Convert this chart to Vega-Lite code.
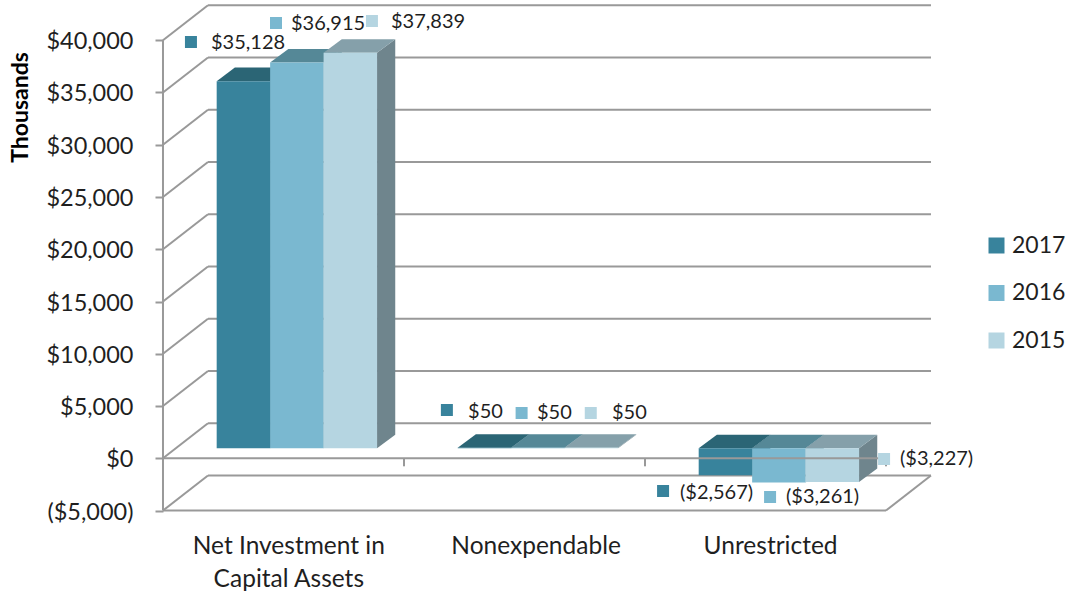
{"$schema":"https://vega.github.io/schema/vega-lite/v6.json","width":1066,"height":592,"padding":0,"autosize":{"type":"none"},"background":"white","config":{"view":{"stroke":null},"font":"Lato","text":{"font":"Lato"}},
"resolve":{"axis":{"x":"independent","y":"independent"},"legend":{"color":"independent"}},
"datasets":{
"bars":[
{"category":"Net Investment in Capital Assets","series":"2017","value":35128},
{"category":"Net Investment in Capital Assets","series":"2016","value":36915},
{"category":"Net Investment in Capital Assets","series":"2015","value":37839},
{"category":"Nonexpendable","series":"2017","value":50},
{"category":"Nonexpendable","series":"2016","value":50},
{"category":"Nonexpendable","series":"2015","value":50},
{"category":"Unrestricted","series":"2017","value":-2567},
{"category":"Unrestricted","series":"2016","value":-3261},
{"category":"Unrestricted","series":"2015","value":-3227}],
"labels":[
{"series":"2017","label":"$35,128","mx":0.116,"my":39831,"tx":0.199,"ty":39736},
{"series":"2016","label":"$36,915","mx":0.469,"my":41650,"tx":0.531,"ty":41554},
{"series":"2015","label":"$37,839","mx":0.867,"my":41841,"tx":0.946,"ty":41745},
{"series":"2017","label":"$50","mx":1.178,"my":4621,"tx":1.266,"ty":4430},
{"series":"2016","label":"$50","mx":1.488,"my":4334,"tx":1.552,"ty":4334},
{"series":"2015","label":"$50","mx":1.775,"my":4334,"tx":1.863,"ty":4334},
{"series":"2017","label":"($2,567)","mx":2.075,"my":-3129,"tx":2.145,"ty":-3320},
{"series":"2016","label":"($3,261)","mx":2.519,"my":-3703,"tx":2.585,"ty":-3703},
{"series":"2015","label":"($3,227)","mx":2.992,"my":-67,"tx":3.058,"ty":-67}],
"ticks":[{"tick":-5000},{"tick":0},{"tick":5000},{"tick":10000},{"tick":15000},{"tick":20000},{"tick":25000},{"tick":30000},{"tick":35000},{"tick":40000}],
"cats":[{"c":1},{"c":2},{"c":3}]
},
"layer":[
{"data":{"name":"ticks"},"transform":[{"calculate":"datum.tick+3349","as":"tb"}],"mark":{"type":"rule","color":"#999999","strokeWidth":2},
"encoding":{
"x":{"datum":0.1867,"type":"quantitative","scale":{"domain":[-0.6763,3.7469],"nice":false,"zero":false},
"axis":{"values":[0.52,1.546,2.519],"orient":"bottom","offset":-60,"ticks":false,"domain":false,"grid":false,"title":null,"labelPadding":2,"labelFontSize":24.5,"labelLimit":400,"labelColor":"#1f1f1f","labelFont":"Lato","labelLineHeight":33,"labelBaseline":"top","labelExpr":"datum.value<1?['Net Investment in','Capital Assets']:(datum.value<2?'Nonexpendable':'Unrestricted')"}},
"x2":{"datum":3.1867},
"y":{"field":"tb","type":"quantitative","scale":{"domain":[-12792,43850],"nice":false,"zero":false},
"axis":{"values":[-5000,0,5000,10000,15000,20000,25000,30000,35000,40000],"orient":"left","offset":-163,"grid":false,"domain":false,"tickColor":"#999999","tickWidth":2,"tickSize":8,"labelPadding":22,"labelOffset":1.5,"labelFontSize":23.5,"labelColor":"#1f1f1f","labelFont":"Lato","labelExpr":"datum.value<0?'($5,000)':format(datum.value,'$,')","title":"Thousands","titleFont":"Lato","titleFontSize":23,"titleFontWeight":"bold","titleColor":"#000000","titleX":-131,"titleY":107,"titleAngle":-90}}}},
{"data":{"name":"ticks"},"transform":[{"calculate":"datum.tick+3349","as":"tb"}],"mark":{"type":"rule","color":"#999999","strokeWidth":2},
"encoding":{"x":{"datum":0,"type":"quantitative","axis":null},"x2":{"datum":0.1867},"y":{"field":"tick","type":"quantitative","axis":null},"y2":{"field":"tb"}}},
{"data":{"name":"ticks"},"mark":{"type":"rule","color":"#999999","strokeWidth":2},"transform":[{"filter":"datum.tick==-5000"},{"calculate":"datum.tick+3349","as":"tb"}],
"encoding":{"x":{"datum":3,"type":"quantitative","axis":null},"x2":{"datum":3.1867},"y":{"field":"tick","type":"quantitative","axis":null},"y2":{"field":"tb"}}},
{"data":{"name":"ticks"},"mark":{"type":"rule","color":"#999999","strokeWidth":2},"transform":[{"filter":"datum.tick==-5000"}],
"encoding":{"x":{"datum":0,"type":"quantitative","axis":null},"x2":{"datum":3},"y":{"field":"tick","type":"quantitative","axis":null}}},
{"data":{"name":"ticks"},"mark":{"type":"rule","color":"#999999","strokeWidth":2},"transform":[{"filter":"datum.tick==-5000"}],
"encoding":{"x":{"datum":0,"type":"quantitative","axis":null},"y":{"field":"tick","type":"quantitative","axis":null},"y2":{"datum":40000}}},
{"data":{"name":"bars"},"transform":[
{"calculate":"indexof(['Net Investment in Capital Assets','Nonexpendable','Unrestricted'],datum.category)+0.2228+0.2218*indexof(['2017','2016','2015'],datum.series)","as":"xl"},
{"calculate":"datum.xl+0.2218","as":"xr"},
{"calculate":"max(datum.value,0)+957","as":"top"},
{"calculate":"min(datum.value,0)+957","as":"bot"},
{"calculate":"datum.series+' side'","as":"part"},
{"calculate":"[0,1]","as":"e"},{"flatten":["e"]},
{"calculate":"datum.xr+datum.e*0.0755","as":"sx"},
{"calculate":"datum.top+datum.e*1301","as":"sy"},
{"calculate":"datum.bot+datum.e*1301","as":"sy2"}],
"mark":{"type":"area","orient":"vertical","opacity":1},
"encoding":{"x":{"field":"sx","type":"quantitative","axis":null},"y":{"field":"sy","type":"quantitative","axis":null},"y2":{"field":"sy2"},"detail":{"field":"category","type":"nominal"},
"color":{"field":"part","type":"nominal","legend":null}}},
{"data":{"name":"bars"},"transform":[
{"calculate":"indexof(['Net Investment in Capital Assets','Nonexpendable','Unrestricted'],datum.category)+0.2228+0.2218*indexof(['2017','2016','2015'],datum.series)","as":"xl"},
{"calculate":"datum.xl+0.2218","as":"xr"},
{"calculate":"max(datum.value,0)+957","as":"top"},
{"calculate":"datum.series+' top'","as":"part"},
{"calculate":"[0,1]","as":"e"},{"flatten":["e"]},
{"calculate":"datum.xl+datum.e*0.0755","as":"tx"},
{"calculate":"datum.xr+datum.e*0.0755","as":"tx2"},
{"calculate":"datum.top+datum.e*1301","as":"ty"}],
"mark":{"type":"area","orient":"horizontal","opacity":1},
"encoding":{"y":{"field":"ty","type":"quantitative","axis":null},"x":{"field":"tx","type":"quantitative","axis":null},"x2":{"field":"tx2"},"detail":{"field":"category","type":"nominal"},
"color":{"field":"part","type":"nominal","legend":null}}},
{"data":{"name":"bars"},"transform":[
{"calculate":"indexof(['Net Investment in Capital Assets','Nonexpendable','Unrestricted'],datum.category)+0.2228+0.2218*indexof(['2017','2016','2015'],datum.series)","as":"xl"},
{"calculate":"datum.xl+0.2218","as":"xr"},
{"calculate":"max(datum.value,0)+957","as":"top"},
{"calculate":"min(datum.value,0)+957","as":"bot"}],
"mark":{"type":"rect"},
"encoding":{"x":{"field":"xl","type":"quantitative","axis":null},"x2":{"field":"xr"},"y":{"field":"top","type":"quantitative","axis":null},"y2":{"field":"bot"},
"color":{"field":"series","type":"nominal","sort":null,
"scale":{"domain":["2017","2016","2015","2017 top","2016 top","2015 top","2017 side","2016 side","2015 side"],"range":["#38839c","#7ab8d0","#b5d5e1","#2b6575","#558897","#85a0aa","#2b6575","#5b8a99","#6f858d"]},
"legend":{"values":["2017","2016","2015"],"title":null,"orient":"none","legendX":985,"legendY":234,"symbolType":"square","symbolSize":256,"symbolStrokeWidth":0,"labelFont":"Lato","labelFontSize":23,"labelColor":"#1f1f1f","rowPadding":23.5,"labelOffset":4,"padding":0}}}},
{"data":{"name":"ticks"},"mark":{"type":"rule","color":"#999999","strokeWidth":2},"transform":[{"filter":"datum.tick==0"}],
"encoding":{"x":{"datum":0,"type":"quantitative","axis":null},"x2":{"datum":3},"y":{"field":"tick","type":"quantitative","axis":null}}},
{"data":{"name":"cats"},"mark":{"type":"rule","color":"#999999","strokeWidth":2},
"encoding":{"x":{"field":"c","type":"quantitative","axis":null},"y":{"datum":0,"type":"quantitative","axis":null},"y2":{"datum":-766}}},
{"data":{"name":"labels"},"mark":{"type":"point","shape":"square","filled":true,"opacity":1,"size":144,"strokeWidth":0},
"encoding":{"x":{"field":"mx","type":"quantitative","axis":null},"y":{"field":"my","type":"quantitative","axis":null},"color":{"field":"series","type":"nominal","legend":null}}},
{"data":{"name":"labels"},"mark":{"type":"text","align":"left","baseline":"middle","fontSize":20,"font":"Lato","color":"#1f1f1f"},
"encoding":{"x":{"field":"tx","type":"quantitative","axis":null},"y":{"field":"ty","type":"quantitative","axis":null},"text":{"field":"label","type":"nominal"}}}
]}
